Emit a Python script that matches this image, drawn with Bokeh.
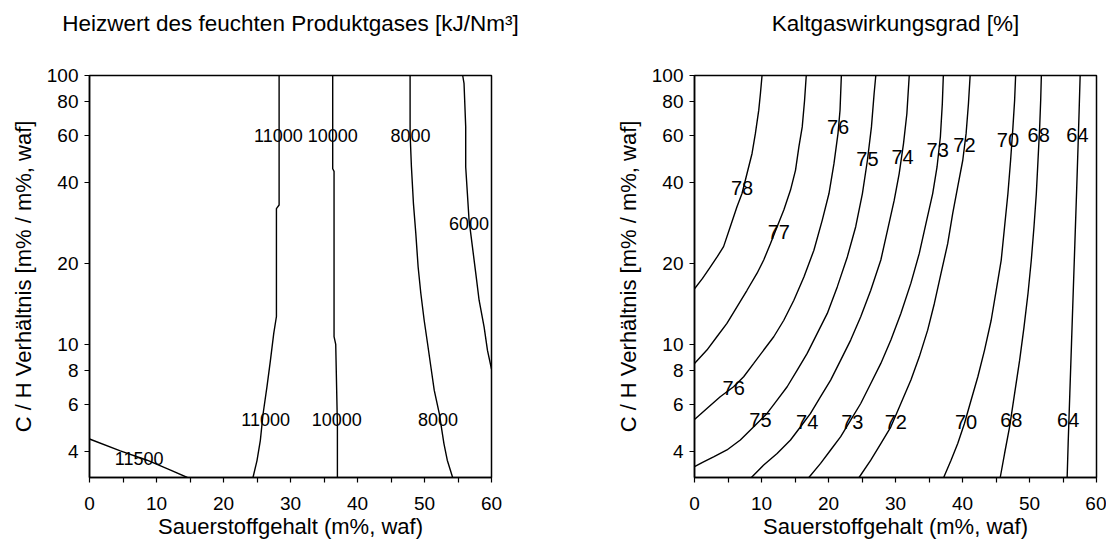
from bokeh.plotting import figure
from bokeh.layouts import row
from bokeh.models import Range1d, FixedTicker, PrintfTickFormatter, Title
from bokeh.core.properties import value
from bokeh.embed import file_html
from bokeh.resources import INLINE

FONT = "Liberation Sans"

# ---------------- axes ----------------
x_ticks = [0, 10, 20, 30, 40, 50, 60]
x_minor = [5, 15, 25, 35, 45, 55]
y_ticks = [4, 6, 8, 10, 20, 40, 60, 80, 100]
x_min, x_max = 0, 60
y_min, y_max = 3.2, 100

title_left = "Heizwert des feuchten Produktgases [kJ/Nm³]"
title_right = "Kaltgaswirkungsgrad [%]"
x_label = "Sauerstoffgehalt (m%, waf)"
y_label = "C / H Verhältnis [m% / m%, waf]"

# ---------------- left panel: Heizwert contours ----------------
hw_11500_x = [0.0, 4.6, 8.6, 12.1, 14.6]
hw_11500_y = [4.45, 4.02, 3.71, 3.41, 3.2]

hw_11000_x = [28.3, 28.3, 27.9, 27.9, 27.5, 27.0, 26.5, 25.9, 25.5, 25.0, 24.4]
hw_11000_y = [100, 33, 32, 12.7, 11.0, 8.7, 7.0, 5.5, 4.4, 3.7, 3.2]

hw_10000_x = [36.3, 36.3, 36.5, 36.5, 36.75, 37.0, 37.0]
hw_10000_y = [100, 45, 44, 10.7, 10.0, 5.0, 3.2]

hw_8000_x = [47.85, 47.85, 48.05, 48.35, 48.7, 49.05, 49.45, 49.95, 50.45, 50.95, 51.45, 52.2, 52.9, 53.4, 54.2]
hw_8000_y = [100, 60.9, 45.7, 33.4, 25.9, 19.4, 15.5, 12.3, 10.1, 8.26, 6.76, 5.54, 4.28, 3.71, 3.2]

hw_6000_x = [55.7, 55.9, 56.15, 56.15, 56.4, 56.65, 57.15, 57.65, 58.15, 58.9, 59.4, 60.0]
hw_6000_y = [100, 93.4, 64.4, 45.7, 36.4, 29.0, 23.1, 18.4, 14.6, 11.6, 9.5, 8.1]

hw_label_text = ["11000", "10000", "8000", "6000", "11000", "10000", "8000", "11500"]
hw_label_x = [28.2, 36.3, 47.9, 56.65, 26.3, 36.9, 52.0, 7.4]
hw_label_y = [60, 60, 60, 28.2, 5.27, 5.27, 5.27, 3.75]

# ---------------- right panel: Kaltgaswirkungsgrad contours ----------------
kg_78_x = [0.0, 1.2, 2.35, 3.4, 4.34, 5.34, 6.34, 7.09, 7.84, 8.59, 9.09, 9.59, 9.84, 10.08]
kg_78_y = [16.1, 17.6, 19.4, 21.2, 23.1, 27.4, 32.5, 36.4, 43.2, 51.3, 60.9, 74.3, 85.7, 100]

kg_77_x = [0.0, 1.85, 3.34, 4.84, 6.34, 7.84, 9.34, 10.33, 11.33, 12.33, 13.33, 14.33, 15.08, 15.58, 16.08, 16.43, 16.68]
kg_77_y = [8.5, 9.53, 10.68, 11.97, 13.8, 15.9, 18.4, 20.6, 23.7, 27.4, 31.6, 37.5, 44.5, 54.3, 64.4, 80.9, 100]

kg_76_x = [0.0, 1.85, 3.84, 5.84, 7.34, 8.84, 10.33, 11.83, 13.33, 14.83, 16.33, 17.82, 19.07, 20.07, 20.82, 21.42, 21.72, 21.92]
kg_76_y = [5.26, 5.78, 6.39, 6.96, 7.58, 8.5, 9.53, 10.68, 12.3, 14.6, 17.8, 22.4, 29.0, 36.4, 47.1, 60.9, 74.3, 100]

kg_75_x = [0.0, 1.35, 2.85, 4.84, 6.84, 8.84, 10.83, 12.33, 13.83, 15.33, 16.82, 18.32, 19.82, 21.32, 22.82, 24.06, 25.06, 25.81, 26.41, 26.81, 27.06]
kg_75_y = [3.51, 3.66, 3.82, 4.05, 4.41, 4.94, 5.54, 6.21, 6.96, 8.03, 9.26, 10.99, 13.04, 16.4, 21.2, 27.4, 36.4, 48.4, 64.4, 85.7, 100]

kg_74_x = [8.49, 10.33, 12.33, 14.33, 15.83, 17.32, 18.82, 20.32, 21.82, 23.31, 24.81, 26.31, 27.81, 28.81, 29.81, 30.55, 31.2, 31.7, 32.05]
kg_74_y = [3.2, 3.56, 3.93, 4.41, 4.94, 5.54, 6.39, 7.37, 8.74, 10.38, 12.67, 15.9, 20.6, 26.6, 34.4, 43.2, 55.9, 72.2, 100]

kg_73_x = [17.07, 18.82, 20.32, 21.82, 23.31, 24.81, 26.31, 27.81, 29.31, 30.8, 32.3, 33.55, 34.55, 35.55, 36.2, 36.7, 36.99, 37.14]
kg_73_y = [3.2, 3.61, 4.05, 4.54, 5.23, 6.03, 7.16, 8.5, 10.38, 13.04, 16.9, 21.8, 28.2, 36.4, 45.7, 59.2, 78.7, 100]

kg_72_x = [24.56, 26.31, 27.81, 29.31, 30.8, 32.3, 33.55, 34.8, 35.8, 36.8, 37.79, 38.54, 39.29, 40.04, 40.54, 40.89, 41.14]
kg_72_y = [3.2, 3.71, 4.28, 4.94, 6.03, 7.37, 8.99, 11.3, 14.2, 18.4, 23.7, 30.7, 38.6, 48.4, 60.9, 78.7, 100]

kg_70_x = [37.19, 38.29, 39.29, 40.29, 41.29, 42.29, 43.29, 44.28, 45.03, 45.78, 46.28, 46.78, 47.18, 47.53, 47.78, 47.93]
kg_70_y = [3.2, 3.71, 4.28, 5.08, 6.21, 7.58, 9.53, 12.3, 15.9, 20.6, 27.4, 36.4, 48.4, 64.4, 80.9, 100]

kg_68_x = [45.63, 46.28, 47.03, 47.78, 48.53, 49.18, 49.78, 50.27, 50.67, 51.02, 51.27, 51.52, 51.67, 51.77]
kg_68_y = [3.2, 3.93, 4.94, 6.58, 8.74, 11.6, 15.5, 20.6, 27.4, 36.4, 48.4, 64.4, 80.9, 100]

kg_64_x = [55.62, 55.77, 56.02, 56.27, 56.52, 56.77, 57.02, 57.26, 57.41, 57.56]
kg_64_y = [3.2, 4.28, 6.58, 10.09, 15.5, 23.7, 36.4, 55.9, 74.3, 100]

kg_label_text = ["78", "77", "76", "76", "75", "75", "74", "74", "73", "73", "72", "72", "70", "70", "68", "68", "64", "64"]
kg_label_x = [7.09, 12.58, 5.84, 21.42, 9.84, 25.81, 16.82, 31.05, 23.56, 36.3, 30.05, 40.29, 40.54, 46.78, 47.28, 51.37, 55.77, 57.16]
kg_label_y = [38.2, 26.2, 6.86, 64.4, 5.23, 48.9, 5.16, 49.8, 5.16, 52.8, 5.16, 55.1, 5.16, 57.8, 5.23, 60.0, 5.23, 60.0]


def make_fig(title, mb_left, mb_right):
    p = figure(frame_width=402, frame_height=402,
               x_range=Range1d(x_min, x_max), y_range=Range1d(y_min, y_max),
               y_axis_type="log", output_backend="svg", toolbar_location=None,
               min_border_left=mb_left, min_border_right=mb_right,
               min_border_top=75, min_border_bottom=71,
               background_fill_color="white", border_fill_color="white")
    # blank spacer title next to the frame, then the real title above it
    p.add_layout(Title(text=" ", text_font=FONT, text_font_size="10px", standoff=22), "above")
    p.add_layout(Title(text=title, text_font=FONT, text_font_size="22.5px",
                       text_font_style="normal", text_color="black", align="center",
                       vertical_align="bottom", standoff=10), "above")
    p.xgrid.visible = False
    p.ygrid.visible = False
    p.outline_line_color = "black"
    p.outline_line_width = 1.5
    p.outline_line_alpha = 1.0
    p.xaxis.ticker = FixedTicker(ticks=x_ticks, minor_ticks=x_minor)
    p.yaxis.ticker = FixedTicker(ticks=y_ticks, minor_ticks=[])
    p.yaxis.formatter = PrintfTickFormatter(format="%d")
    p.xaxis.axis_label = x_label
    p.yaxis.axis_label = y_label
    for ax in (p.xaxis[0], p.yaxis[0]):
        ax.axis_line_color = "black"
        ax.axis_line_width = 1.5
        ax.major_tick_line_color = "black"
        ax.major_tick_line_width = 1.2
        ax.minor_tick_line_color = "black"
        ax.minor_tick_line_width = 1.2
        ax.major_tick_in = 0
        ax.major_tick_out = 5
        ax.minor_tick_in = 0
        ax.minor_tick_out = 5
        ax.major_label_text_font = FONT
        ax.major_label_text_font_size = "19px"
        ax.major_label_text_color = "black"
        ax.axis_label_text_font = FONT
        ax.axis_label_text_font_size = "22px"
        ax.axis_label_text_font_style = "normal"
        ax.axis_label_text_color = "black"
    p.xaxis[0].major_label_standoff = 14
    p.xaxis[0].axis_label_standoff = 1
    p.yaxis[0].major_label_standoff = 6
    p.yaxis[0].axis_label_standoff = 8
    return p


pl = make_fig(title_left, 89, 77)
for xs, ys in [(hw_11500_x, hw_11500_y), (hw_11000_x, hw_11000_y), (hw_10000_x, hw_10000_y),
               (hw_8000_x, hw_8000_y), (hw_6000_x, hw_6000_y)]:
    pl.line(xs, ys, line_color="black", line_width=1.4)
pl.text(x=hw_label_x, y=hw_label_y, text=hw_label_text, text_font=value(FONT),
        text_font_size="18px", text_align="center", text_baseline="middle", text_color="black")

pr = make_fig(title_right, 126, 10)
for xs, ys in [(kg_78_x, kg_78_y), (kg_77_x, kg_77_y), (kg_76_x, kg_76_y), (kg_75_x, kg_75_y),
               (kg_74_x, kg_74_y), (kg_73_x, kg_73_y), (kg_72_x, kg_72_y), (kg_70_x, kg_70_y),
               (kg_68_x, kg_68_y), (kg_64_x, kg_64_y)]:
    pr.line(xs, ys, line_color="black", line_width=1.4)
pr.text(x=kg_label_x, y=kg_label_y, text=kg_label_text, text_font=value(FONT),
        text_font_size="20px", text_align="center", text_baseline="middle", text_color="black")

layout = row(pl, pr)
open("out.html", "w").write(file_html(layout, INLINE))
